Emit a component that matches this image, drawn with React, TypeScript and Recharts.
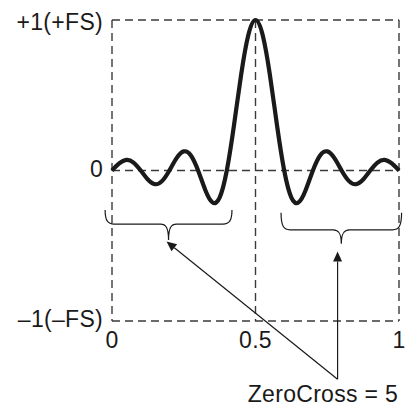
import React from "react";
import {
  LineChart,
  Line,
  XAxis,
  YAxis,
  CartesianGrid,
  ReferenceLine,
  ReferenceDot,
} from "recharts";

// x positions of the samples (normalised, 0..1)
const xs = [
  0, 0.025, 0.05, 0.075, 0.1, 0.125, 0.15, 0.175, 0.2, 0.225, 0.25, 0.275, 0.3,
  0.325, 0.35, 0.375, 0.4, 0.425, 0.45, 0.475, 0.5, 0.525, 0.55, 0.575, 0.6,
  0.625, 0.65, 0.675, 0.7, 0.725, 0.75, 0.775, 0.8, 0.825, 0.85, 0.875, 0.9,
  0.925, 0.95, 0.975, 1,
];
// impulse response values
const ys = [
  0, 0.047, 0.071, 0.053, 0, -0.06, -0.091, -0.069, 0, 0.082, 0.127, 0.1, 0,
  -0.129, -0.212, -0.18, 0, 0.3, 0.637, 0.9, 1, 0.9, 0.637, 0.3, 0, -0.18,
  -0.212, -0.129, 0, 0.1, 0.127, 0.082, 0, -0.069, -0.091, -0.06, 0, 0.053,
  0.071, 0.047, 0,
];

const xTicks = [0, 0.5, 1];
const xTickLabels = ["0", "0.5", "1"];
const yTicks = [-1, 0, 1];
const yTickLabels = ["\u20131(\u2013FS)", "0", "+1(+FS)"];

// braces grouping the zero crossings: [start, end, level]
const braceLeft = [-0.024, 0.418, -0.356];
const braceRight = [0.589, 1.009, -0.394];
// arrows: start (common) and tips
const arrowStart = [0.786, -1.387];
const arrowTipLeft = [0.19, -0.472];
const arrowTipRight = [0.786, -0.538];
const annotationText = "ZeroCross = 5";

const data = xs.map((x, i) => ({ x, y: ys[i] }));

const FONT = "'Liberation Sans', Arial, Helvetica, sans-serif";
const FS = 23;
const LS = 0.3;
const INK = "#1a1a1a";
const DASH = "#3a3a3a";

const XTick = (props: any) => {
  const { x, y, payload } = props;
  const idx = xTicks.indexOf(payload.value);
  return (
    <text
      x={x}
      y={y + 27}
      textAnchor="middle"
      fontFamily={FONT}
      fontSize={FS}
      letterSpacing={LS}
      fill={INK}
    >
      {xTickLabels[idx]}
    </text>
  );
};

const YTick = (props: any) => {
  const { x, y, payload } = props;
  const idx = yTicks.indexOf(payload.value);
  const dy = payload.value === 1 ? 10 : payload.value === 0 ? 6.5 : 5.5;
  return (
    <text
      x={x - 9}
      y={y + dy}
      textAnchor="end"
      fontFamily={FONT}
      fontSize={FS}
      letterSpacing={LS}
      fill={INK}
    >
      {yTickLabels[idx]}
    </text>
  );
};

const braceShape = (up: number, down: number) => (props: any) => {
  const { x1, x2, y1 } = props;
  const L = Math.min(x1, x2);
  const R = Math.max(x1, x2);
  const Y = y1;
  const M = (L + R) / 2;
  const d = [
    `M ${L} ${Y - up}`,
    `C ${L} ${Y - 3} ${L + 3} ${Y} ${L + 9} ${Y}`,
    `L ${M - 8} ${Y}`,
    `C ${M - 3} ${Y} ${M} ${Y + 3} ${M} ${Y + down}`,
    `C ${M} ${Y + 3} ${M + 3} ${Y} ${M + 8} ${Y}`,
    `L ${R - 9} ${Y}`,
    `C ${R - 3} ${Y} ${R} ${Y - 3} ${R} ${Y - up}`,
  ].join(" ");
  return <path d={d} fill="none" stroke={INK} strokeWidth={1.2} />;
};

const arrowShape = (props: any) => {
  const { x1, y1, x2, y2 } = props;
  const dx = x2 - x1;
  const dy = y2 - y1;
  const len = Math.sqrt(dx * dx + dy * dy) || 1;
  const ux = dx / len;
  const uy = dy / len;
  const hl = 10;
  const hw = 4.5;
  const bx = x2 - ux * hl;
  const by = y2 - uy * hl;
  const pts = `${x2},${y2} ${bx - uy * hw},${by + ux * hw} ${bx + uy * hw},${by - ux * hw}`;
  return (
    <g>
      <line x1={x1} y1={y1} x2={bx} y2={by} stroke={INK} strokeWidth={1.2} />
      <polygon points={pts} fill={INK} />
    </g>
  );
};

const labelShape = (props: any) => {
  const { cx, cy } = props;
  return (
    <text
      x={cx - 14.7}
      y={cy + 22.7}
      textAnchor="middle"
      fontFamily={FONT}
      fontSize={FS}
      letterSpacing={LS}
      fill={INK}
    >
      {annotationText}
    </text>
  );
};

export default function App() {
  return (
    <div style={{ position: "absolute", left: 0, top: 0 }}>
      <LineChart
        width={406}
        height={408}
        data={data}
        margin={{ top: 20, right: 7, bottom: 57, left: 12 }}
      >
        <CartesianGrid
          stroke={DASH}
          strokeWidth={1.4}
          strokeDasharray="8 5"
          horizontalValues={yTicks}
          verticalValues={xTicks}
        />
        <XAxis
          type="number"
          dataKey="x"
          domain={[0, 1]}
          ticks={xTicks}
          interval={0}
          axisLine={false}
          tickLine={false}
          tickSize={0}
          tickMargin={0}
          height={30}
          tick={<XTick />}
        />
        <YAxis
          type="number"
          domain={[-1, 1]}
          ticks={yTicks}
          interval={0}
          axisLine={false}
          tickLine={false}
          tickSize={0}
          tickMargin={0}
          width={100}
          tick={<YTick />}
        />
        <Line
          type="natural"
          dataKey="y"
          stroke={INK}
          strokeWidth={4.2}
          dot={false}
          isAnimationActive={false}
        />
        <ReferenceLine
          segment={[
            { x: braceLeft[0], y: braceLeft[2] },
            { x: braceLeft[1], y: braceLeft[2] },
          ]}
          ifOverflow="visible"
          shape={braceShape(14, 16)}
        />
        <ReferenceLine
          segment={[
            { x: braceRight[0], y: braceRight[2] },
            { x: braceRight[1], y: braceRight[2] },
          ]}
          ifOverflow="visible"
          shape={braceShape(17, 14)}
        />
        <ReferenceLine
          segment={[
            { x: arrowStart[0], y: arrowStart[1] },
            { x: arrowTipLeft[0], y: arrowTipLeft[1] },
          ]}
          ifOverflow="visible"
          shape={arrowShape}
        />
        <ReferenceLine
          segment={[
            { x: arrowStart[0], y: arrowStart[1] },
            { x: arrowTipRight[0], y: arrowTipRight[1] },
          ]}
          ifOverflow="visible"
          shape={arrowShape}
        />
        <ReferenceDot
          x={arrowStart[0]}
          y={arrowStart[1]}
          r={0}
          ifOverflow="visible"
          shape={labelShape}
        />
      </LineChart>
    </div>
  );
}
